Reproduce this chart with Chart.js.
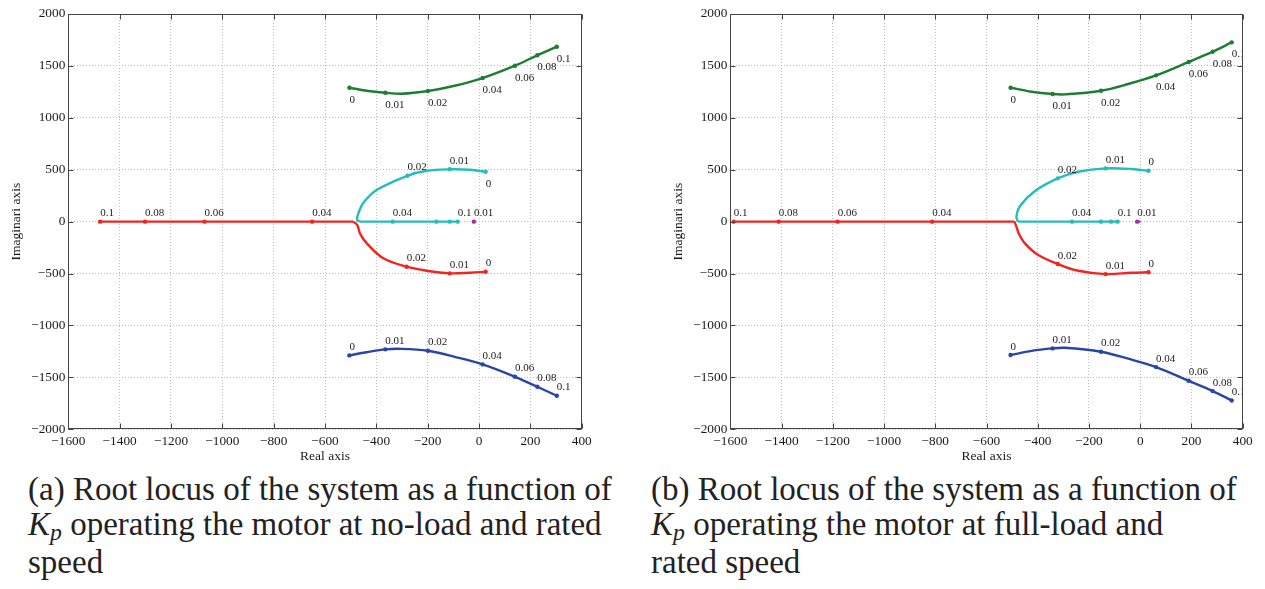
<!DOCTYPE html>
<html>
<head>
<meta charset="utf-8">
<script src="https://cdn.jsdelivr.net/npm/chart.js@4"></script>
<style>
  body { margin: 0; width: 1265px; height: 589px; overflow: hidden; background: #fff; position: relative; }
  .plot { position: absolute; top: 0; width: 632px; height: 470px; }
  .caption { position: absolute; top: 472px; font-family: "Liberation Serif", serif; font-size: 33px;
             line-height: 35px; color: #222; white-space: nowrap; }
  .caption sub { font-size: 0.72em; vertical-align: baseline; position: relative; top: 0.2em; }
</style>
</head>
<body>
<div class="plot" style="left:0"><canvas id="plotA"></canvas></div>
<div class="plot" style="left:662px"><canvas id="plotB"></canvas></div>
<div class="caption" style="left:28px">(a) Root locus of the system as a function of<br><i>K<sub>p</sub></i> operating the motor at no-load and rated<br>speed</div>
<div class="caption" style="left:651px">(b) Root locus of the system as a function of<br><i>K<sub>p</sub></i> operating the motor at full-load and<br>rated speed</div>
<script>
// axis ticks
const xTicks = [-1600, -1400, -1200, -1000, -800, -600, -400, -200, 0, 200, 400];
const yTicks = [-2000, -1500, -1000, -500, 0, 500, 1000, 1500, 2000];

// (a) no-load: closed loop poles as Kp goes 0 -> 0.1
// null = path only, '' = marker without label
const aRedRe = [26, -35, -114, -204, -282, -373, -437, -464, -474, -490, -650, -1069, -1301, -1476];
const aRedIm = [-483, -492, -498, -473, -434, -353, -209, -113, -33, 0, 0, 0, 0, 0];
const aRedK  = ['0', null, '0.01', null, '0.02', null, null, null, null, null, '0.04', '0.06', '0.08', '0.1'];

const aCyanRe = [26, -35, -114, -204, -279, -399, -451, -470, -475, -466, -336, -166, -114, -83];
const aCyanIm = [481, 500, 504, 490, 442, 305, 180, 80, 20, 0, 0, 0, 0, 0];
const aCyanK  = ['0', null, '0.01', null, '0.02', null, null, null, null, null, '0.04', '', '', '0.1'];

const aGreenRe = [-505, -438, -365, -301, -199, -95, 14, 140, 227, 303];
const aGreenIm = [1290, 1261, 1242, 1232, 1258, 1309, 1383, 1502, 1602, 1685];
const aGreenK  = ['0', null, '0.01', null, '0.02', null, '0.04', '0.06', '0.08', '0.1'];

const aBlueRe = [-505, -438, -365, -301, -199, -95, 14, 140, 227, 303];
const aBlueIm = [-1288, -1258, -1230, -1225, -1244, -1302, -1375, -1494, -1590, -1677];
const aBlueK  = ['0', null, '0.01', null, '0.02', null, '0.04', '0.06', '0.08', '0.1'];

const aMagRe = [-22, -20, -18];
const aMagIm = [0, 0, 0];
const aMagK  = [null, '0.01', null];

// (b) full-load
const bRedRe = [32, -33, -135, -242, -322, -398, -450, -474, -483, -491, -812, -1181, -1411, -1587];
const bRedIm = [-488, -492, -505, -473, -408, -322, -209, -115, -50, 0, 0, 0, 0, 0];
const bRedK  = ['0', null, '0.01', null, '0.02', null, null, null, null, null, '0.04', '0.06', '0.08', '0.1'];

const bCyanRe = [32, -33, -135, -242, -322, -411, -469, -483, -478, -266, -153, -114, -88];
const bCyanIm = [490, 507, 513, 481, 417, 295, 150, 50, 0, 0, 0, 0, 0];
const bCyanK  = ['0', null, '0.01', null, '0.02', null, null, null, null, '0.04', '', '', '0.1'];

const bGreenRe = [-506, -424, -342, -294, -153, -47, 62, 189, 283, 357];
const bGreenIm = [1290, 1251, 1229, 1226, 1261, 1326, 1409, 1538, 1637, 1727];
const bGreenK  = ['0', null, '0.01', null, '0.02', null, '0.04', '0.06', '0.08', '0.1'];

const bBlueRe = [-506, -424, -342, -294, -153, -47, 62, 189, 283, 357];
const bBlueIm = [-1285, -1245, -1221, -1215, -1253, -1320, -1401, -1533, -1632, -1722];
const bBlueK  = ['0', null, '0.01', null, '0.02', null, '0.04', '0.06', '0.08', '0.1'];

const bMagRe = [-17, -12, 1];
const bMagIm = [0, 0, 0];
const bMagK  = [null, '0.01', null];

const RED = '#f2241f', CYAN = '#25bcbc', GREEN = '#1d7d33', BLUE = '#2a45a8', MAGENTA = '#a52ca5';
const SERIF = '"Liberation Serif", "Times New Roman", serif';

Chart.defaults.font.family = SERIF;
Chart.defaults.color = '#1a1a1a';

function minus(v) {
    return v < 0 ? '\u2212' + Math.abs(v) : String(v);
}

function lineSet(pts, k, color, below, tension) {
    return {
        data: pts,
        kLabels: k,
        below: below || [],
        showLine: true,
        borderColor: color,
        backgroundColor: color,
        borderWidth: 2.4,
        tension: tension,
        pointRadius: (ctx) => k[ctx.dataIndex] === null ? 0 : 2.2,
        pointBorderWidth: 0,
        pointBackgroundColor: color
    };
}

// one locus branch: smooth complex part + straight run along the real axis
function branch(re, im, k, color, below) {
    const pts = re.map((x, i) => ({x: x, y: im[i]}));
    let s = im.length;
    while (s > 0 && im[s - 1] === 0) s--;
    if (s === im.length) return [lineSet(pts, k, color, below, 0.35)];
    if (s === 0) return [lineSet(pts, k, color, below, 0)];
    const straight = k.slice(s);
    return [
        lineSet(pts.slice(0, s + 1), k.slice(0, s + 1), color, below, 0.35),
        lineSet(pts.slice(s), [null].concat(straight.slice(1)), color, below, 0)
    ];
}

// Kp labels next to the markers, clipped to the axes box
const kLabelPlugin = {
    id: 'kLabels',
    afterDatasetsDraw(chart) {
        const {ctx, chartArea: a} = chart;
        ctx.save();
        ctx.beginPath();
        ctx.rect(a.left, a.top, a.right - a.left, a.bottom - a.top);
        ctx.clip();
        ctx.font = '11px ' + SERIF;
        ctx.fillStyle = '#222';
        ctx.textAlign = 'left';
        ctx.textBaseline = 'alphabetic';
        chart.data.datasets.forEach((ds, i) => {
            const pts = chart.getDatasetMeta(i).data;
            ds.kLabels.forEach((lab, j) => {
                if (!lab) return;
                const p = pts[j];
                const below = ds.below === 'all' || ds.below.includes(lab);
                ctx.fillText(lab, p.x, below ? p.y + 15 : p.y - 5.5);
            });
        });
        ctx.restore();
    }
};

// matlab style box with inward tick marks
const boxPlugin = {
    id: 'box',
    afterDraw(chart) {
        const {ctx, chartArea: a, scales} = chart;
        const L = Math.round(a.left) + 0.5, R = Math.round(a.right) - 0.5;
        const T = Math.round(a.top) + 0.5, B = Math.round(a.bottom) - 0.5;
        ctx.save();
        ctx.strokeStyle = '#444';
        ctx.lineWidth = 1;
        ctx.strokeRect(L, T, R - L, B - T);
        ctx.beginPath();
        xTicks.forEach(v => {
            const px = Math.round(scales.x.getPixelForValue(v)) + 0.5;
            ctx.moveTo(px, B); ctx.lineTo(px, B - 5);
            ctx.moveTo(px, T); ctx.lineTo(px, T + 5);
        });
        yTicks.forEach(v => {
            const py = Math.round(scales.y.getPixelForValue(v)) + 0.5;
            ctx.moveTo(L, py); ctx.lineTo(L + 5, py);
            ctx.moveTo(R, py); ctx.lineTo(R - 5, py);
        });
        ctx.stroke();
        ctx.restore();
    }
};

function makeChart(id, datasets, padRight) {
    const grid = {color: '#bdbdbd', lineWidth: 1, drawTicks: false};
    const border = {display: false, dash: [1, 2]};
    return new Chart(document.getElementById(id), {
        type: 'scatter',
        data: {datasets: datasets},
        options: {
            responsive: true,
            maintainAspectRatio: false,
            animation: false,
            layout: {padding: {top: 14, right: padRight, left: 0, bottom: 0}},
            plugins: {legend: {display: false}, tooltip: {enabled: false}},
            scales: {
                x: {
                    type: 'linear',
                    min: xTicks[0],
                    max: xTicks[xTicks.length - 1],
                    afterBuildTicks: (s) => { s.ticks = xTicks.map(v => ({value: v})); },
                    afterFit: (s) => { s.height = 40.7; },
                    grid: grid,
                    border: border,
                    ticks: {padding: 4, maxRotation: 0, font: {size: 13.3}, callback: minus},
                    title: {display: true, text: 'Real axis', font: {size: 13.5}, padding: {top: 0, bottom: 5.8}}
                },
                y: {
                    type: 'linear',
                    min: yTicks[0],
                    max: yTicks[yTicks.length - 1],
                    afterBuildTicks: (s) => { s.ticks = yTicks.map(v => ({value: v})); },
                    afterFit: (s) => { s.width = 68.3; },
                    grid: grid,
                    border: border,
                    ticks: {padding: 3, font: {size: 13.3}, callback: minus},
                    title: {display: true, text: 'Imaginari axis', font: {size: 13.5}, padding: {top: 8.4, bottom: 0}}
                }
            }
        },
        plugins: [kLabelPlugin, boxPlugin]
    });
}

makeChart('plotA', [
    branch(aRedRe, aRedIm, aRedK, RED),
    branch(aCyanRe, aCyanIm, aCyanK, CYAN, ['0']),
    branch(aGreenRe, aGreenIm, aGreenK, GREEN, 'all'),
    branch(aBlueRe, aBlueIm, aBlueK, BLUE),
    branch(aMagRe, aMagIm, aMagK, MAGENTA)
].flat(), 50.3);

makeChart('plotB', [
    branch(bRedRe, bRedIm, bRedK, RED),
    branch(bCyanRe, bCyanIm, bCyanK, CYAN),
    branch(bGreenRe, bGreenIm, bGreenK, GREEN, 'all'),
    branch(bBlueRe, bBlueIm, bBlueK, BLUE),
    branch(bMagRe, bMagIm, bMagK, MAGENTA)
].flat(), 51.3);
</script>
</body>
</html>
